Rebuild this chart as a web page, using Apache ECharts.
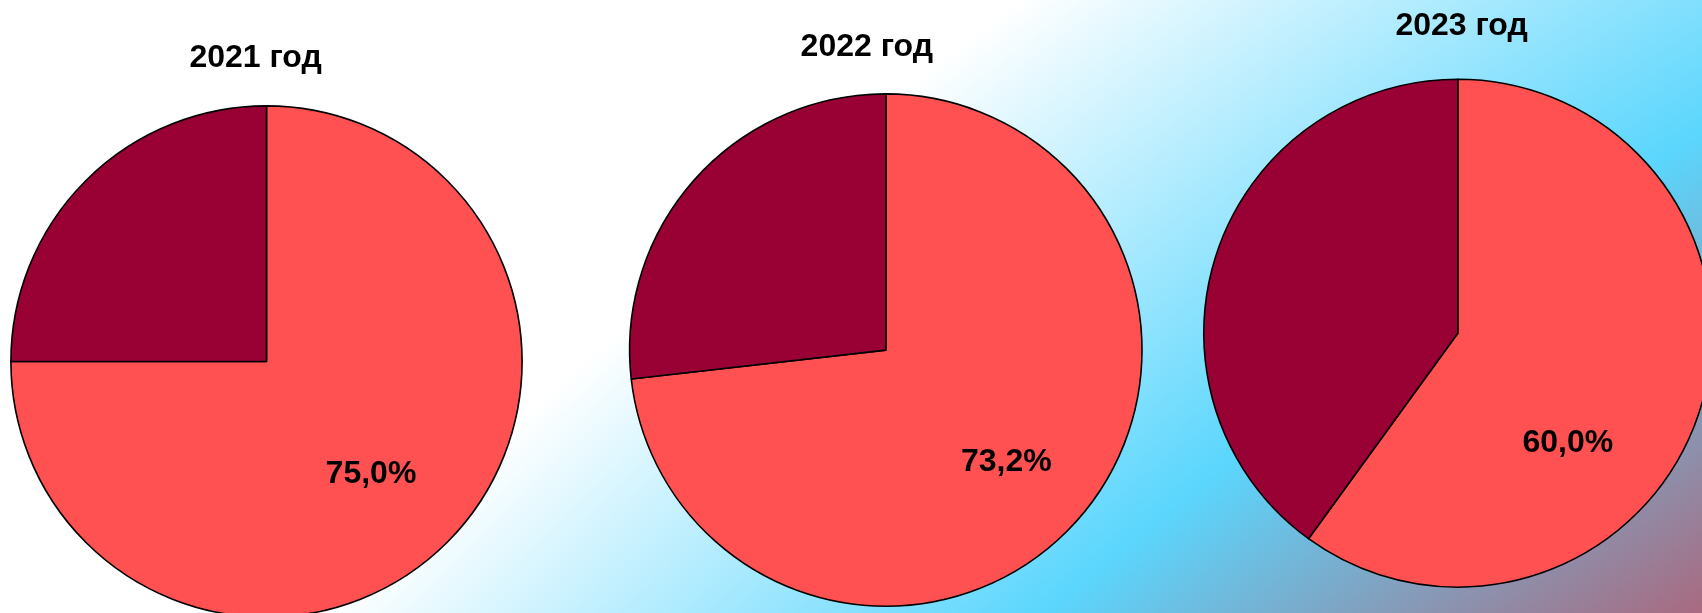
<!DOCTYPE html>
<html>
<head>
<meta charset="utf-8">
<script src="https://cdn.jsdelivr.net/npm/echarts@6/dist/echarts.min.js"></script>
<style>
html, body { margin: 0; padding: 0; }
#chart { width: 1702px; height: 613px; }
</style>
</head>
<body>
<div id="chart"></div>
<script>
// данные
const years = ['2021 год', '2022 год', '2023 год'];
const mainShare = [75.0, 73.2, 60.0];   // красный сектор, %
const otherShare = [25.0, 26.8, 40.0];  // бордовый сектор, %

// раскладка
const pieCenters = [[266.5, 361.5], [885.8, 350.1], [1457.8, 333.2]];
const pieRadius = [255.6, 256.2, 254];
const titlePos = [[255.6, 42], [866.8, 31], [1461.6, 10.6]];
const labelShift = [[12, 20.1], [22.7, 24.6], [-13.6, 69.6]];

const FONT = '"Liberation Sans", Arial, sans-serif';

var myChart = echarts.init(document.getElementById('chart'));

var titles = years.map((t, i) => ({
	text: t,
	left: titlePos[i][0],
	top: titlePos[i][1],
	textAlign: 'center',
	textVerticalAlign: 'top',
	padding: 0,
	textStyle: {
		fontFamily: FONT,
		fontWeight: 'bold',
		fontSize: 32,
		lineHeight: 32,
		color: '#000'
	}
}));

var series = years.map((t, i) => ({
	name: t,
	type: 'pie',
	center: pieCenters[i],
	radius: pieRadius[i],
	startAngle: 90,
	clockwise: true,
	silent: true,
	itemStyle: { borderColor: '#000', borderWidth: 1.6 },
	labelLine: { show: false },
	data: [
		{
			value: mainShare[i],
			itemStyle: { color: '#FF5151' },
			label: {
				show: true,
				position: 'inside',
				offset: labelShift[i],
				fontFamily: FONT,
				fontWeight: 'bold',
				fontSize: 32,
				color: '#000',
				formatter: p => p.value.toFixed(1).replace('.', ',') + '%'
			}
		},
		{
			value: otherShare[i],
			itemStyle: { color: '#990033' },
			label: { show: false }
		}
	]
}));

var option = {
	animation: false,
	// фон: белый слева, голубой в середине, сиреневый в правом нижнем углу
	backgroundColor: {
		type: 'radial',
		x: 4397, y: 4505, r: 6295,
		global: true,
		colorStops: [
			{ offset: 0, color: '#A86A80' },
			{ offset: 0.752, color: '#A86A80' },
			{ offset: 0.816, color: '#5BD6FD' },
			{ offset: 0.8945, color: '#ffffff' },
			{ offset: 1, color: '#ffffff' }
		]
	},
	title: titles,
	series: series
};

myChart.setOption(option);
</script>
</body>
</html>
